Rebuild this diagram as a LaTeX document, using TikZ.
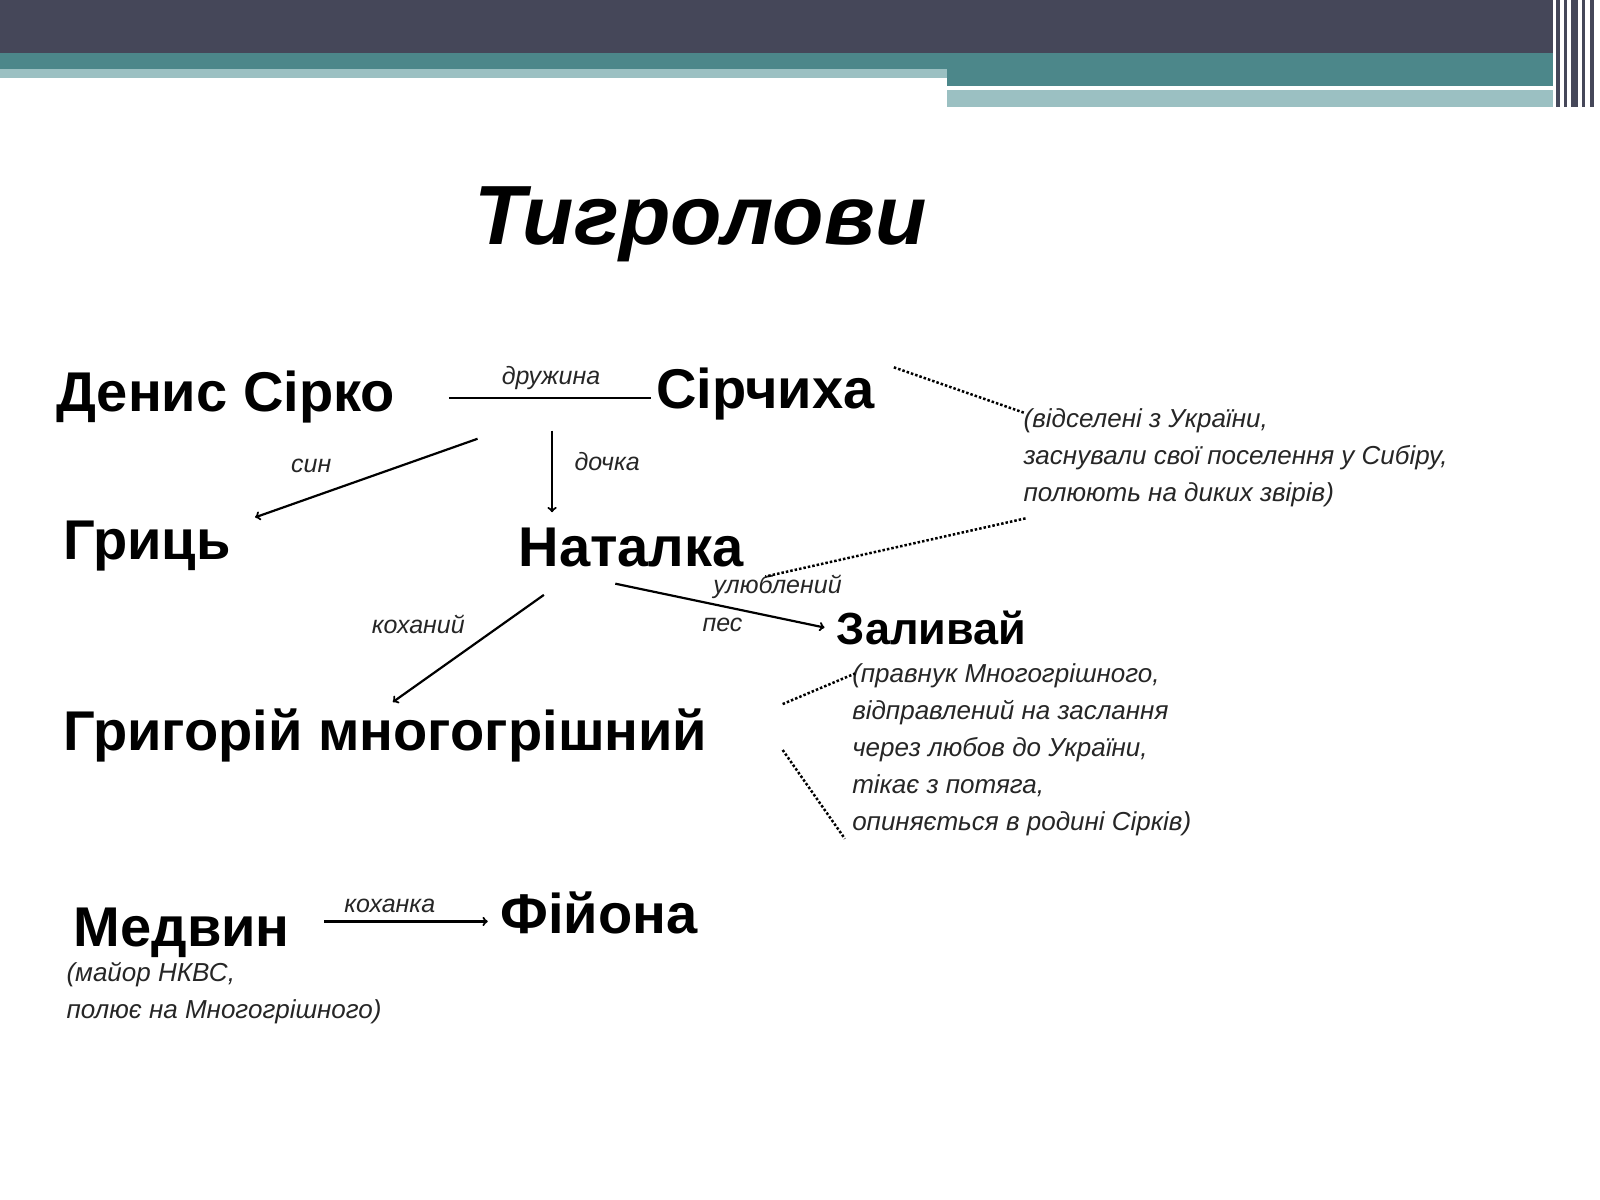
\documentclass[tikz,border=0pt]{standalone}
\usepackage{fontspec}
\setmainfont{Liberation Sans}
\definecolor{hdark}{RGB}{69,71,89}
\definecolor{hteal}{RGB}{76,135,138}
\definecolor{hlight}{RGB}{155,192,194}
\begin{document}
\begin{tikzpicture}[x=1.02pt,y=-1.02pt,
  person/.style={font=\bfseries\fontsize{56}{60}\selectfont,anchor=base west,inner sep=0},
  lab/.style={font=\itshape\fontsize{25}{28}\selectfont,text=black!85,inner sep=0},
  note/.style={font=\itshape\fontsize{26}{37}\selectfont,text=black!85,anchor=north west,align=left,inner sep=0},
  arr/.style={->,line width=2.2pt},
  dot/.style={dotted,line width=2.5pt}]
\useasboundingbox (0,0) rectangle (1568,1176);
\fill[white] (0,0) rectangle (1568,1176);
% header
\fill[hdark] (0,0) rectangle (1522,52);
\fill[hteal] (0,52) rectangle (1522,68);
\fill[hlight] (0,68) rectangle (928,76);
\fill[hteal] (928,68) rectangle (1522,84);
\fill[hlight] (928,88) rectangle (1522,105);
\foreach \x/\w in {1525/4,1533/3,1540/6,1550/3,1558/4}{
  \fill[hdark] (\x,0) rectangle ++(\w,105);}
% title
\node[font=\bfseries\itshape\fontsize{84}{90}\selectfont,anchor=base west,inner sep=0] (title) at (465,240) {Тигролови};
% names
\node[person] (denys) at (55,403) {Денис Сірко};
\node[person] (sirch) at (643,400) {Сірчиха};
\node[person] (hryts) at (62,548) {Гриць};
\node[person] (natal) at (508,555) {Наталка};
\node[person,font=\bfseries\fontsize{45}{50}\selectfont] (zal) at (820,632) {Заливай};
\node[person] (hryh) at (62,735) {Григорій многогрішний};
\node[person] (medv) at (72,928) {Медвин};
\node[person] (fiy) at (490,915) {Фійона};
% notes
\node[note] (n1) at (1003,400) {(відселені з України,\\заснували свої поселення у Сибіру,\\полюють на диких звірів)};
\node[note] (n2) at (835,650) {(правнук Многогрішного,\\відправлений на заслання\\через любов до України,\\тікає з потяга,\\опиняється в родині Сірків)};
\node[note] (n3) at (65,943) {(майор НКВС,\\полює на Многогрішного)};
% connector end points
\coordinate (a1) at (440,390); \coordinate (a2) at (638,390);
\coordinate (b1) at (468,430); \coordinate (b2) at (250,507);
\coordinate (c1) at (541,422); \coordinate (c2) at (541,502);
\coordinate (d1) at (533,583); \coordinate (d2) at (385,688);
\coordinate (e1) at (603,572); \coordinate (e2) at (808,615);
\coordinate (f1) at (318,903); \coordinate (f2) at (478,903);
\draw[line width=2.2pt] (a1) -- (a2);
\node[lab] (l1) at (540,370) {дружина};
\draw[arr] (b1) -- (b2); \node[lab] (l2) at (305,457) {син};
\draw[arr] (c1) -- (c2); \node[lab] (l3) at (595,452) {дочка};
\draw[arr] (d1) -- (d2); \node[lab] (l4) at (410,612) {коханий};
\draw[arr] (e1) -- (e2); \node[lab] (l5) at (762,575) {улюблений};
\node[lab] (l6) at (708,612) {пес};
\draw[arr] (f1) -- (f2); \node[lab] (l7) at (382,888) {коханка};
% dotted
\coordinate (g1) at (876,360); \coordinate (g2) at (1005,405);
\coordinate (h1) at (1005,508); \coordinate (h2) at (750,565);
\coordinate (i1) at (767,690); \coordinate (i2) at (838,660);
\coordinate (j1) at (767,735); \coordinate (j2) at (828,822);
\draw[dot] (g1) -- (g2);
\draw[dot] (h1) -- (h2);
\draw[dot] (i1) -- (i2);
\draw[dot] (j1) -- (j2);
\end{tikzpicture}
\end{document}
